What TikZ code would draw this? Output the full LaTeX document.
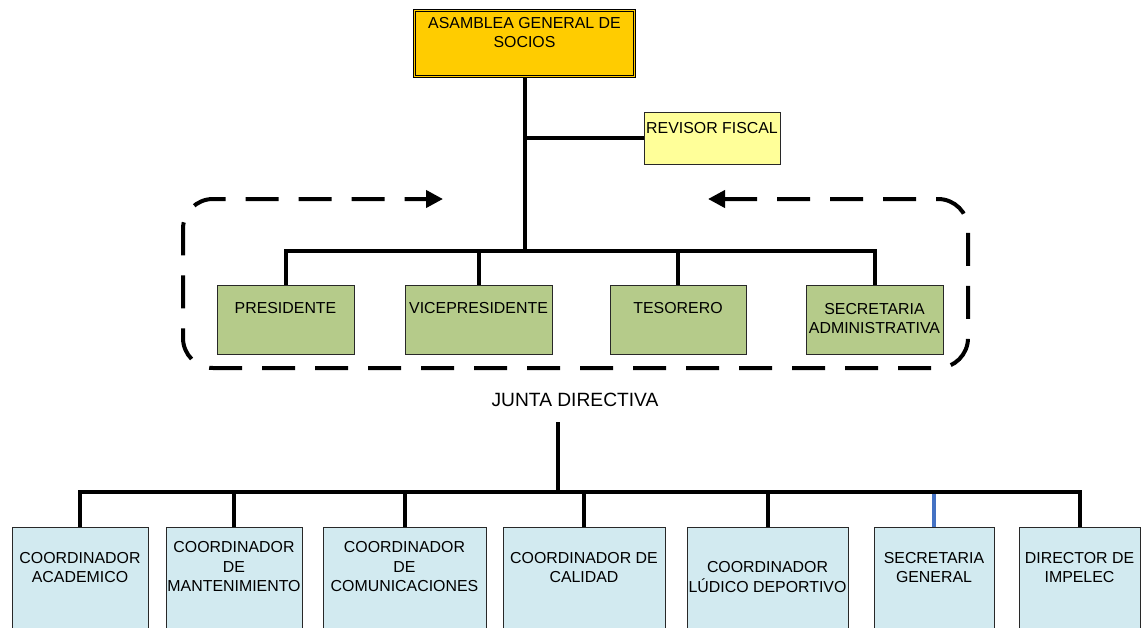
\documentclass[tikz,border=0pt]{standalone}
\usepackage{fontspec}
\setmainfont{Liberation Sans}
\usetikzlibrary{arrows.meta}
\definecolor{gold}{RGB}{255,204,0}
\definecolor{paleyellow}{RGB}{255,255,153}
\definecolor{sage}{RGB}{181,203,138}
\definecolor{paleblue}{RGB}{210,234,240}
\definecolor{linkblue}{RGB}{68,114,196}
\definecolor{edge}{RGB}{40,40,40}
\tikzset{
  unitbox/.style={draw=edge, line width=0.9pt, inner sep=0pt, rectangle},
  board/.style={unitbox, fill=sage, minimum height=69pt},
  office/.style={unitbox, fill=paleblue, minimum height=173pt},
  label/.style={font=\fontsize{15.9}{19.5}\selectfont, align=center, inner sep=0pt, text=black},
  conn/.style={line width=4pt, black},
  bluelink/.style={line width=3.2pt, linkblue},
  frame/.style={line width=4pt, dash pattern=on 33pt off 20pt, rounded corners=30pt,
    {Triangle[length=17pt,width=17pt]}-{Triangle[length=17pt,width=17pt]}}
}
\begin{document}
\begin{tikzpicture}[x=1pt,y=-1pt]
\clip (0,0) rectangle (1142,627);
\fill[white] (0,0) rectangle (1142,627);

% assembly and auditor
\node[draw=black, line width=1pt, double=gold, double distance=1.5pt, fill=gold,
      minimum width=220pt, minimum height=66pt, inner sep=0pt] (asm) at (524.5,43.5) {};
\node[label] (tasm) at (524.5,32.5) {ASAMBLEA GENERAL DE\\SOCIOS};
\node[unitbox, fill=paleyellow, minimum width=136pt, minimum height=52pt] (rev) at (712,138) {};
\node[label] (trev) at (712,128) {REVISOR FISCAL};

% board members
\node[board, minimum width=137pt] (pres) at (285.5,319.5) {};
\node[board, minimum width=147pt] (vice) at (478.5,319.5) {};
\node[board, minimum width=136pt] (teso) at (678,319.5) {};
\node[board, minimum width=137pt] (secadm) at (874.5,319.5) {};
\node[label] (tpres) at (285.5,308.5) {PRESIDENTE};
\node[label] (tvice) at (478.5,308.5) {VICEPRESIDENTE};
\node[label] (tteso) at (678,308.5) {TESORERO};
\node[label] (tsecadm) at (874.5,318.5) {SECRETARIA\\ADMINISTRATIVA};

% dashed frame around the board
\coordinate (fa) at (708,199);
\coordinate (fb) at (443,199);
\draw[frame] (fa) -- (968,199) -- (968,368) -- (183,368) -- (183,199) -- (fb);

\node[label, font=\fontsize{19.2}{23}\selectfont] (junta) at (575,400) {JUNTA DIRECTIVA};

% coordinators
\node[office, minimum width=136pt] (aca) at (80,613.5) {};
\node[office, minimum width=136pt] (mant) at (234,613.5) {};
\node[office, minimum width=163pt] (com) at (404.5,613.5) {};
\node[office, minimum width=162pt] (cal) at (584,613.5) {};
\node[office, minimum width=161pt] (lud) at (767.5,613.5) {};
\node[office, minimum width=120pt] (secgen) at (934,613.5) {};
\node[office, minimum width=121pt] (dir) at (1079.5,613.5) {};
\node[label] (taca) at (80,567.5) {COORDINADOR\\ACADEMICO};
\node[label] (tmant) at (234,567) {COORDINADOR\\DE\\MANTENIMIENTO};
\node[label] (tcom) at (404.5,567) {COORDINADOR\\DE\\COMUNICACIONES};
\node[label] (tcal) at (584,567.5) {COORDINADOR DE\\CALIDAD};
\node[label] (tlud) at (767.5,577) {COORDINADOR\\LÚDICO DEPORTIVO};
\node[label] (tsecgen) at (934,567.5) {SECRETARIA\\GENERAL};
\node[label] (tdir) at (1079.5,567.5) {DIRECTOR DE\\IMPELEC};

% upper connectors
\coordinate (hb) at (524.5,251);
\draw[conn] (asm.south) -- (hb);
\draw[conn] (rev.west) -- (rev.west -| hb);
\draw[conn] (pres.north) -- ++(0,-34) -| (secadm.north);
\draw[conn] (vice.north) -- (vice.north |- hb);
\draw[conn] (teso.north) -- (teso.north |- hb);

% lower connectors
\coordinate (jt) at (558,422);
\coordinate (jb) at (558,492);
\draw[conn] (jt) -- (jb);
\draw[conn] (aca.north) -- ++(0,-35) -| (dir.north);
\draw[conn] (mant.north) -- (mant.north |- jb);
\draw[conn] (com.north) -- (com.north |- jb);
\draw[conn] (cal.north) -- (cal.north |- jb);
\draw[conn] (lud.north) -- (lud.north |- jb);
\draw[bluelink] (secgen.north) -- ([yshift=-2pt]secgen.north |- jb);
\end{tikzpicture}
\end{document}
